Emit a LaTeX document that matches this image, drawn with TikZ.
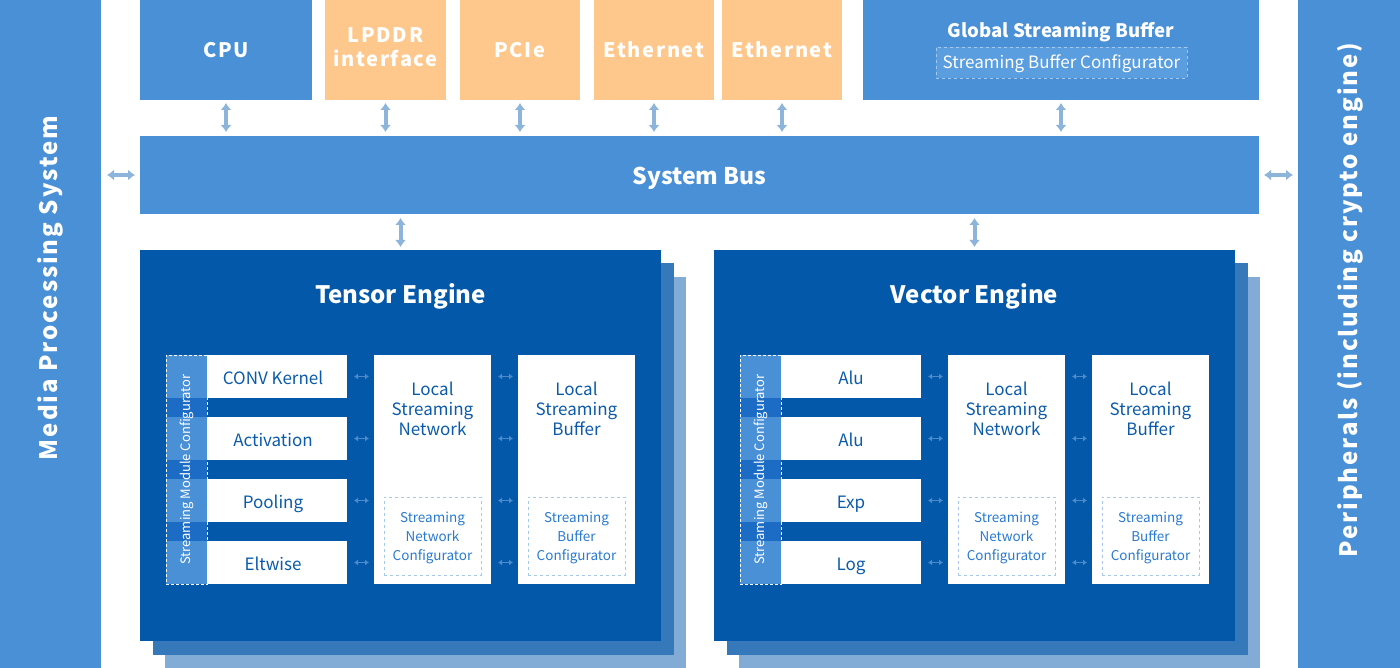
\documentclass[tikz,border=0pt]{standalone}
\usepackage{fontspec}
\setmainfont{Noto Sans CJK SC}
\newfontfamily\spaced[LetterSpace=8]{Noto Sans CJK SC}
\usetikzlibrary{arrows.meta}
\definecolor{topblue}{HTML}{4A90D7}
\definecolor{orng}{HTML}{FEC88D}
\definecolor{engblue}{HTML}{0358A9}
\definecolor{shone}{HTML}{3579BB}
\definecolor{shtwo}{HTML}{82ACD5}
\definecolor{arrowc}{HTML}{8DB4DB}
\definecolor{innerarr}{HTML}{4B8BCB}
\definecolor{textblue}{HTML}{0B5BAA}
\definecolor{cfgtext}{HTML}{2A7AD0}
\definecolor{cfgdash}{HTML}{A5C8EC}
\definecolor{gapblue}{HTML}{1C6CC6}
\definecolor{gsbcfg}{HTML}{5B9EE0}
\begin{document}
\begin{tikzpicture}[x=1pt,y=-1pt,
  blk/.style={anchor=north west, inner sep=0pt, outer sep=0pt, draw=none, align=center},
  bar/.style={blk, fill=topblue, minimum width=101pt, minimum height=668pt},
  bartext/.style={rotate=90, text=white, font=\spaced\bfseries\fontsize{24}{28}\selectfont},
  topbox/.style={blk, minimum height=100pt, text=white, font=\spaced\bfseries\fontsize{20}{24}\selectfont},
  engine/.style={blk, fill=engblue, minimum width=521pt, minimum height=391pt},
  shadowa/.style={blk, fill=shone, minimum width=521pt, minimum height=391pt},
  shadowb/.style={blk, fill=shtwo, minimum width=521pt, minimum height=391pt},
  enginetitle/.style={text=white, font=\bfseries\fontsize{24}{28}\selectfont},
  module/.style={blk, fill=white, minimum width=140pt, minimum height=43pt, text height=16pt, text depth=0pt, text=textblue, font=\fontsize{17}{20}\selectfont},
  tallbox/.style={blk, fill=white, minimum width=117pt, minimum height=229pt},
  talltext/.style={align=center, text=textblue, font=\fontsize{17}{20}\selectfont},
  cfgbox/.style={blk, draw=cfgdash, dashed, line width=0.8pt, minimum width=97pt, minimum height=78pt, text=cfgtext, font=\fontsize{13.5}{19}\selectfont},
  smccol/.style={blk, fill=gapblue, minimum width=41pt, minimum height=229pt},
  smcseg/.style={blk, fill=topblue, minimum width=41pt, minimum height=43pt},
  smcborder/.style={blk, draw=white, dash pattern=on 3pt off 2pt, line width=0.8pt, minimum width=41pt, minimum height=229pt},
  smctext/.style={rotate=90, text=white, font=\fontsize{13}{15}\selectfont},
  bigarrow/.style={draw=arrowc, line width=4pt, {Latex[length=7pt,width=11pt]}-{Latex[length=7pt,width=11pt]}},
  smallarrow/.style={draw=innerarr, line width=1.8pt, {Latex[length=4pt,width=6pt]}-{Latex[length=4pt,width=6pt]}}
]
\useasboundingbox (0,0) rectangle (1400,668);
\fill[white] (0,0) rectangle (1400,668);

% side bars
\node[bar] (media) at (0,0) {};
\node[bar, minimum width=102pt] (periph) at (1298,0) {};
\node[bartext] (mediatext) at (50,288) {Media Processing System};
\node[bartext] (periphtext) at (1350,300) {Peripherals (including crypto engine)};

% top row
\node[topbox, fill=topblue, minimum width=172pt] (cpu) at (140,0) {CPU};
\node[topbox, fill=orng, minimum width=121pt] (lpddr) at (325,0) {LPDDR\\interface\rule[-6pt]{0pt}{6pt}};
\node[topbox, fill=orng, minimum width=120pt] (pcie) at (460,0) {PCIe};
\node[topbox, fill=orng, minimum width=120pt] (eth1) at (594,0) {Ethernet};
\node[topbox, fill=orng, minimum width=120pt] (eth2) at (722,0) {Ethernet};
\node[topbox, fill=topblue, minimum width=396pt] (gsb) at (863,0) {};
\node[text=white, font=\bfseries\fontsize{18.6}{22}\selectfont] (gsbtitle) at (1061,32) {Global Streaming Buffer};
\node[fill=gsbcfg, draw=cfgdash, dashed, line width=0.8pt, minimum width=251pt, minimum height=31pt, inner sep=0pt, text height=12.5pt, text depth=0pt, text=white, font=\fontsize{17}{20}\selectfont] (gsbcfg) at (1061.5,62.5) {Streaming Buffer Configurator};

% system bus
\node[blk, fill=topblue, minimum width=1119pt, minimum height=78pt, text height=19pt, text depth=0pt, text=white, font=\bfseries\fontsize{23}{26}\selectfont] (bus) at (140,136) {System Bus};

% bus arrows
\foreach \n in {cpu,lpddr,pcie,eth1,eth2,gsb}
  \draw[bigarrow, shorten <=3pt, shorten >=4pt] (\n.south) -- (\n.south |- bus.north);
\draw[bigarrow, shorten <=6pt, shorten >=5pt] (media.east |- bus.west) -- (bus.west);
\draw[bigarrow, shorten <=5pt, shorten >=5pt] (bus.east) -- (periph.west |- bus.east);

% engines
\foreach \ex/\nm/\ttl in {140/tensor/Tensor Engine,714/vector/Vector Engine}{
  \node[shadowb] (\nm shb) at (\ex+25,277) {};
  \node[shadowa] (\nm sha) at (\ex+12.5,263.5) {};
  \node[engine] (\nm) at (\ex,250) {};
  \node[enginetitle] (\nm title) at (\ex+260.5,296) {\ttl};
  % streaming module configurator column
  \node[smccol] (\nm smc) at (\ex+26,355) {};
  \foreach \ry in {355,417,479,541}
    \node[smcseg] (\nm seg\ry) at (\ex+26,\ry) {};
  \node[smcborder] (\nm smcb) at (\ex+26,355) {};
  \node[smctext] (\nm smct) at (\ex+46.5,469.5) {Streaming Module Configurator};
  % local streaming network & buffer
  \node[tallbox] (\nm lsn) at (\ex+234,355) {};
  \node[talltext] (\nm lsnt) at (\ex+292.5,409) {Local\\Streaming\\Network};
  \node[cfgbox] (\nm lsnc) at (\ex+244,497) {\rule{0pt}{14pt}Streaming\\Network\\Configurator};
  \node[tallbox] (\nm lsb) at (\ex+378,355) {};
  \node[talltext] (\nm lsbt) at (\ex+436.5,409) {Local\\Streaming\\Buffer};
  \node[cfgbox] (\nm lsbc) at (\ex+388,497) {\rule{0pt}{14pt}Streaming\\Buffer\\Configurator};
}
\draw[bigarrow, shorten <=4pt, shorten >=3pt] (bus.south -| tensor.north) -- (tensor.north);
\draw[bigarrow, shorten <=4pt, shorten >=3pt] (bus.south -| vector.north) -- (vector.north);

% modules
\node[module] (tm1) at (207,355) {CONV Kernel\hspace*{8pt}};
\node[module] (tm2) at (207,417) {Activation\hspace*{8pt}};
\node[module] (tm3) at (207,479) {Pooling\hspace*{8pt}};
\node[module] (tm4) at (207,541) {Eltwise\hspace*{8pt}};
\node[module] (vm1) at (781,355) {Alu};
\node[module] (vm2) at (781,417) {Alu};
\node[module] (vm3) at (781,479) {Exp};
\node[module] (vm4) at (781,541) {Log};

\foreach \m/\e in {tm1/tensor,tm2/tensor,tm3/tensor,tm4/tensor,vm1/vector,vm2/vector,vm3/vector,vm4/vector}{
  \draw[smallarrow, shorten <=7pt, shorten >=5pt] (\m.east) -- (\m.east -| \e lsn.west);
  \draw[smallarrow, shorten <=7pt, shorten >=5pt] (\m.east -| \e lsn.east) -- (\m.east -| \e lsb.west);
}
\end{tikzpicture}
\end{document}
